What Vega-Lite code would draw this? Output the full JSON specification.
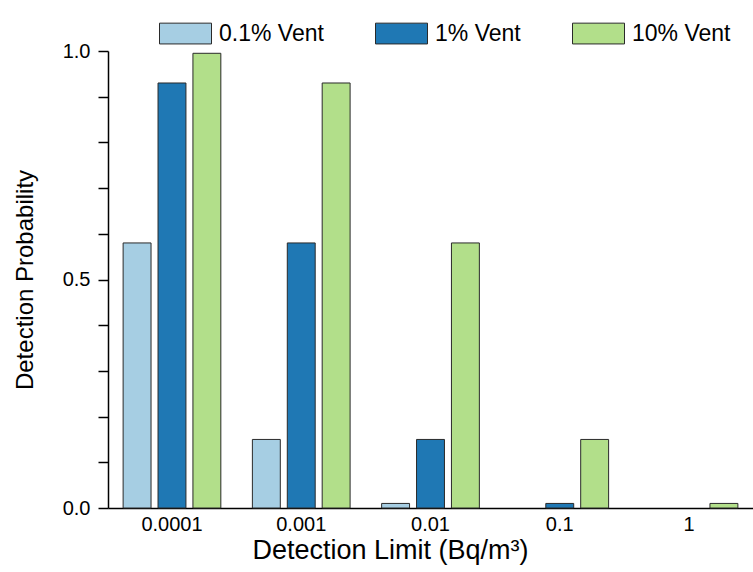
{
  "$schema": "https://vega.github.io/schema/vega-lite/v6.json",
  "width": 645,
  "height": 457,
  "autosize": {"type": "none"},
  "padding": {"left": 108, "top": 51, "right": 0, "bottom": 64},
  "background": "white",
  "config": {
    "font": "Liberation Sans",
    "view": {"stroke": null},
    "axis": {"grid": false, "domainColor": "#000", "domainWidth": 1.5, "tickColor": "#000", "tickWidth": 1.5, "labelColor": "#000", "titleColor": "#000", "titleFontWeight": "normal"}
  },
  "data": {
    "values": [
      {"limit": "0.0001", "vent": "0.1% Vent", "p": 0.58},
      {"limit": "0.0001", "vent": "1% Vent", "p": 0.93},
      {"limit": "0.0001", "vent": "10% Vent", "p": 0.995},
      {"limit": "0.001", "vent": "0.1% Vent", "p": 0.15},
      {"limit": "0.001", "vent": "1% Vent", "p": 0.58},
      {"limit": "0.001", "vent": "10% Vent", "p": 0.93},
      {"limit": "0.01", "vent": "0.1% Vent", "p": 0.01},
      {"limit": "0.01", "vent": "1% Vent", "p": 0.15},
      {"limit": "0.01", "vent": "10% Vent", "p": 0.58},
      {"limit": "0.1", "vent": "0.1% Vent", "p": 0},
      {"limit": "0.1", "vent": "1% Vent", "p": 0.01},
      {"limit": "0.1", "vent": "10% Vent", "p": 0.15},
      {"limit": "1", "vent": "0.1% Vent", "p": 0},
      {"limit": "1", "vent": "1% Vent", "p": 0},
      {"limit": "1", "vent": "10% Vent", "p": 0.01}
    ]
  },
  "transform": [{"filter": "datum.p > 0"}],
  "mark": {"type": "bar", "stroke": "#2a2a2a", "strokeWidth": 1},
  "encoding": {
    "x": {
      "field": "limit",
      "type": "nominal",
      "sort": ["0.0001", "0.001", "0.01", "0.1", "1"],
      "scale": {"domain": ["0.0001", "0.001", "0.01", "0.1", "1"], "paddingInner": 0.19, "paddingOuter": 0.09},
      "axis": {
        "title": "Detection Limit (Bq/m³)",
        "labelAngle": 0,
        "ticks": false,
        "labelPadding": 6,
        "labelFontSize": 20,
        "titleFontSize": 27,
        "titlePadding": 3,
        "titleX": 282
      }
    },
    "xOffset": {
      "field": "vent",
      "type": "nominal",
      "sort": ["0.1% Vent", "1% Vent", "10% Vent"],
      "scale": {"domain": ["0.1% Vent", "1% Vent", "10% Vent"], "paddingInner": 0.2, "paddingOuter": 0.1}
    },
    "y": {
      "field": "p",
      "type": "quantitative",
      "scale": {"domain": [0, 1], "nice": false},
      "axis": {
        "title": "Detection Probability",
        "values": [0, 0.1, 0.2, 0.3, 0.4, 0.5, 0.6, 0.7, 0.8, 0.9, 1],
        "labelExpr": "datum.value == 0 || datum.value == 0.5 || datum.value == 1 ? format(datum.value, '.1f') : ''",
        "tickSize": 10,
        "labelPadding": 8,
        "labelFontSize": 20,
        "titleFontSize": 24,
        "titlePadding": 25
      }
    },
    "color": {
      "field": "vent",
      "type": "nominal",
      "sort": ["0.1% Vent", "1% Vent", "10% Vent"],
      "scale": {"domain": ["0.1% Vent", "1% Vent", "10% Vent"], "range": ["#a6cee3", "#1f78b4", "#b2df8a"]},
      "legend": {
        "title": null,
        "orient": "none",
        "legendX": 51,
        "legendY": -44,
        "direction": "horizontal",
        "columns": 3,
        "padding": 0,
        "symbolType": "M-1,-0.4H1V0.4H-1Z",
        "symbolSize": 2704,
        "symbolStrokeColor": "#2a2a2a",
        "symbolStrokeWidth": 1,
        "symbolOpacity": 1,
        "labelFontSize": 23,
        "labelColor": "#000",
        "labelOffset": 7,
        "columnPadding": 49
      }
    }
  }
}
